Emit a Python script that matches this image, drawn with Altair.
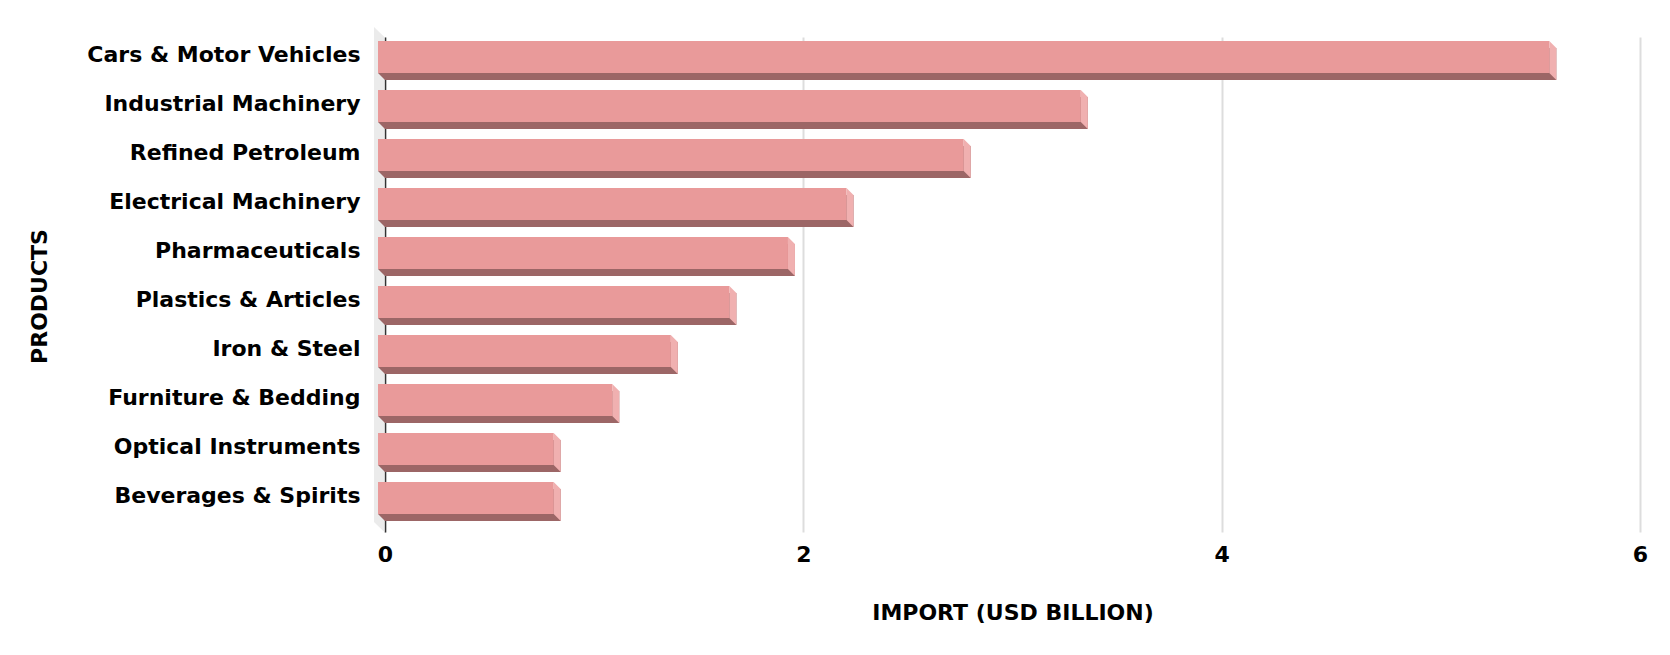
import altair as alt
import pandas as pd

products = [
    "Cars & Motor Vehicles",
    "Industrial Machinery",
    "Refined Petroleum",
    "Electrical Machinery",
    "Pharmaceuticals",
    "Plastics & Articles",
    "Iron & Steel",
    "Furniture & Bedding",
    "Optical Instruments",
    "Beverages & Spirits",
]
imports_usd_bn = [5.60, 3.36, 2.80, 2.24, 1.96, 1.68, 1.40, 1.12, 0.84, 0.84]
x_ticks = [0, 2, 4, 6]

df = pd.DataFrame({"product": products, "value": imports_usd_bn})

FONT = "DejaVu Sans"
FRONT = "#E99A9A"
BOTTOM = "#9C6666"
SIDE = "#F0B0B0"
WALL = "#EBEBEB"

x_scale = alt.Scale(domain=[0, 6], nice=False)
y_scale = alt.Scale(paddingInner=0, paddingOuter=0.05)

x_enc = alt.X(
    "value:Q",
    scale=x_scale,
    title="IMPORT (USD BILLION)",
    axis=alt.Axis(
        values=x_ticks,
        format="d",
        labelFlush=False,
        grid=True,
        gridColor="#DDDDDD",
        gridWidth=2,
        domain=False,
        ticks=False,
        labelFont=FONT,
        labelFontWeight="bold",
        labelFontSize=22,
        labelColor="#000000",
        labelPadding=12,
        titleFont=FONT,
        titleFontWeight="bold",
        titleFontSize=22,
        titleColor="#000000",
        titleY=80,
        titleBaseline="middle",
    ),
)

y_enc = alt.Y(
    "product:N",
    sort=products,
    scale=y_scale,
    title="PRODUCTS",
    axis=alt.Axis(
        domain=True,
        domainColor="#333333",
        domainWidth=1.5,
        ticks=False,
        grid=False,
        labelFont=FONT,
        labelFontWeight="bold",
        labelFontSize=22,
        labelColor="#000000",
        labelPadding=25,
        labelOffset=-9,
        labelLimit=400,
        titleFont=FONT,
        titleFontWeight="bold",
        titleFontSize=22,
        titleColor="#000000",
        titleX=-346,
        titleY=259,
        titleAngle=-90,
        titleBaseline="middle",
    ),
)

base = alt.Chart(df)

wall = alt.Chart(pd.DataFrame({"z": [0]})).mark_point(
    shape="M-11,-10 L-0.6,0 L-0.6,495 L-11,485 Z",
    size=4,
    filled=True,
    opacity=1,
    strokeWidth=0,
    color=WALL,
).encode(x=alt.X("z:Q", scale=x_scale), y=alt.value(0))

bottom_face = base.mark_bar(size=32, color=BOTTOM).encode(x=x_enc, y=y_enc)

left_tri = base.mark_point(
    shape="M-7,9 L0,9 L0,16 Z",
    size=4,
    filled=True,
    opacity=1,
    strokeWidth=0,
    color=BOTTOM,
).encode(x=alt.datum(0), y=alt.Y("product:N", sort=products, scale=y_scale))

front_face = base.mark_bar(
    size=32,
    color=FRONT,
    xOffset=-7,
    x2Offset=-7,
    yOffset=-7,
    y2Offset=-7,
).encode(x=x_enc, y=y_enc)

side_face = base.mark_point(
    shape="M-7,-23 L0,-16 L0,16 L-7,9 Z",
    size=4,
    filled=True,
    opacity=1,
    strokeWidth=0,
    color=SIDE,
).encode(x=alt.X("value:Q", scale=x_scale), y=alt.Y("product:N", sort=products, scale=y_scale))

chart = (
    alt.layer(wall, bottom_face, left_tri, front_face, side_face)
    .properties(
        width=1255,
        height=495,
        autosize=alt.AutoSizeParams(type="none"),
        padding={"left": 377, "top": 29, "right": 10, "bottom": 100},
        background="#FFFFFF",
    )
    .configure_view(strokeWidth=0)
)

chart.save("out.html", embed_options={"renderer": "svg", "actions": False})
